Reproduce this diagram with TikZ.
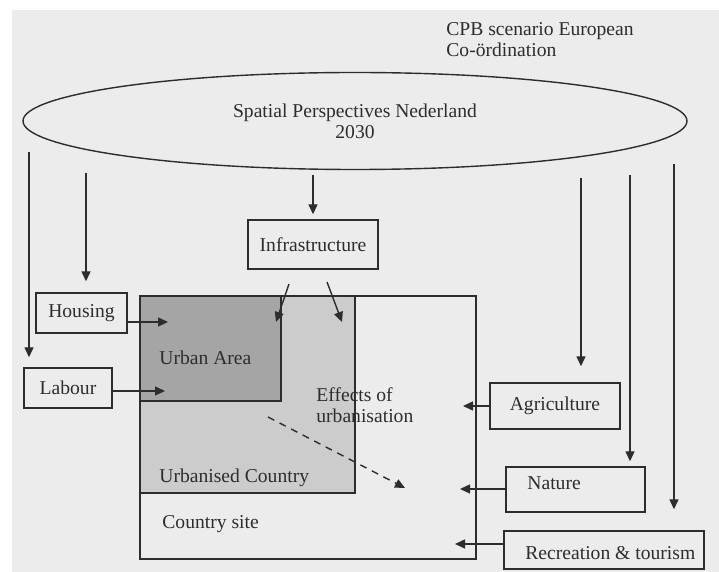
\documentclass[tikz,border=0pt]{standalone}
\usepackage{fontspec}
\setmainfont{Liberation Serif}
\usetikzlibrary{arrows.meta,positioning,shapes.geometric}
\definecolor{papier}{RGB}{236,236,236}
\definecolor{inkt}{RGB}{45,45,45}
\definecolor{stedelijk}{RGB}{165,165,165}
\definecolor{verstedelijkt}{RGB}{204,204,204}

\begin{document}
\begin{tikzpicture}[x=0.5pt,y=-0.5pt,
vak/.style={draw=inkt, line width=0.7pt, inner sep=0pt, align=center, text=inkt},
gebied/.style={draw=inkt, line width=0.7pt, inner sep=0pt},
tekst/.style={inner sep=0pt, anchor=west, align=left, text=inkt},
pijl/.style={-{Triangle[length=5pt,width=4.5pt]}, draw=inkt, line width=0.7pt},
stippel/.style={pijl, dash pattern=on 3.5pt off 3pt},
font=\fontsize{9.8}{10.5}\selectfont
]
\useasboundingbox (0,0) rectangle (719,572);
\fill[papier] (12,10) rectangle (719,572);

\node[tekst] (cpb) at (446,40) {CPB scenario European\\Co-ördination};
\node[vak, ellipse, minimum width=332pt, minimum height=48.5pt] (spn) at (355,121) {Spatial Perspectives Nederland\\2030};

\node[gebied, minimum width=168pt, minimum height=131.5pt] (platteland) at (308,427.5) {};
\node[gebied, fill=verstedelijkt, anchor=north west, minimum width=107.5pt, minimum height=98.5pt] (verstedelijkt) at (platteland.north west) {};
\node[gebied, fill=stedelijk, anchor=north west, minimum width=70.5pt, minimum height=52.5pt] (stad) at (platteland.north west) {};
\node[tekst] (stadtxt) at (159,358) {Urban Area};
\node[tekst] (effecten) at (316,405) {Effects of\\urbanisation};
\node[tekst] (verstedelijkttxt) at (159,478) {Urbanised Country};
\node[tekst] (plattelandtxt) at (162,524) {Country site};

\node[vak, minimum width=65pt, minimum height=24.5pt] (infra) at (313,244.5) {Infrastructure};
\node[vak, minimum width=45.5pt, minimum height=20pt] (housing) at (81.5,313) {Housing};
\node[vak, minimum width=44pt, minimum height=20pt] (labour) at (68,388) {Labour};
\node[vak, minimum width=65pt, minimum height=23pt] (agri) at (555,406) {Agriculture};
\node[vak, minimum width=69.5pt, minimum height=22.5pt] (nature) at (575.5,489.5) {};
\node[tekst] (naturetxt) at (527,483) {Nature};
\node[vak, minimum width=100pt, minimum height=19pt] (recreatie) at (604,550) {};
\node[tekst] (recreatietxt) at (525,553) {Recreation \& tourism};

\coordinate (naarlabour) at (29,152);
\coordinate (naarhousing) at (86,173);
\coordinate (naarinfra) at (313,175);
\coordinate (naaragri) at (581,178);
\coordinate (naarnature) at (630,175);
\coordinate (naarrecreatie) at (674,164);
\draw[pijl] (naarlabour) -- ([yshift=5pt]naarlabour |- labour.north);
\draw[pijl] (naarhousing) -- ([yshift=5.5pt]naarhousing |- housing.north);
\draw[pijl] (naarinfra) -- ([yshift=2.5pt]naarinfra |- infra.north);
\draw[pijl] (naaragri) -- ([yshift=8pt]naaragri |- agri.north);
\draw[pijl] (naarnature) -- ([yshift=2.5pt]naarnature |- nature.north);
\draw[pijl] (naarrecreatie) -- ([yshift=10.5pt]naarrecreatie |- recreatie.north);

\coordinate (infra-a) at (289,284);
\coordinate (infra-b) at (327,282);
\coordinate (instad) at (276,322);
\coordinate (ineffect) at (342,322);
\draw[pijl] (infra-a) -- (instad);
\draw[pijl] (infra-b) -- (ineffect);

\coordinate (inwonen) at (168,322);
\coordinate (inarbeid) at (165,391);
\coordinate (inagri) at (463,406);
\coordinate (innature) at (460,489);
\coordinate (inrecreatie) at (455,544);
\draw[pijl] (housing.east |- inwonen) -- (inwonen);
\draw[pijl] (labour.east |- inarbeid) -- (inarbeid);
\draw[pijl] (agri.west |- inagri) -- (inagri);
\draw[pijl] (nature.west |- innature) -- (innature);
\draw[pijl] (recreatie.west |- inrecreatie) -- (inrecreatie);

\coordinate (uitstad) at (268,417);
\coordinate (inland) at (405,488);
\draw[stippel] (uitstad) -- (inland);
\end{tikzpicture}
\end{document}
